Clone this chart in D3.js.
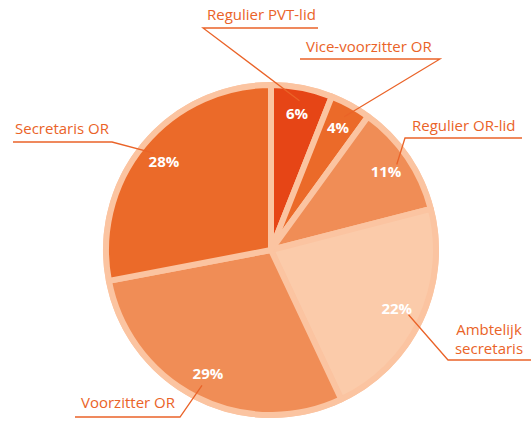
<!DOCTYPE html>
<html>
<head>
<meta charset="utf-8">
<script src="https://cdn.jsdelivr.net/npm/d3@7"></script>
<style>
    html, body { margin: 0; padding: 0; background: #fff; }
    svg { display: block; }
</style>
</head>
<body>
<div id="chart"></div>
<script>
// data, clockwise from 12 o'clock
const categories = ["Regulier PVT-lid", "Vice-voorzitter OR", "Regulier OR-lid", "Ambtelijk secretaris", "Voorzitter OR", "Secretaris OR"];
const shares = [6, 4, 11, 22, 29, 28];
const sliceColors = ["#e64516", "#eb6a29", "#f08d56", "#fbcbaa", "#f08d56", "#eb6a29"];

// where each outer label sits: elbow of the leader, end of the underline, text anchor
const labelLayout = [
    { elbow: [203, 28], lineTo: 318, text: [207, 20], anchor: "start" },
    { elbow: [440, 59], lineTo: 300, text: [306, 52], anchor: "start" },
    { elbow: [405, 138], lineTo: 522, text: [412, 131], anchor: "start" },
    { elbow: [448, 360], lineTo: 531, text: [489, 335], anchor: "middle" },
    { elbow: [180, 417], lineTo: 75, text: [81, 408], anchor: "start" },
    { elbow: [112, 142], lineTo: 13, text: [15, 134], anchor: "start" }
];

const width = 531, height = 421;
const cx = 271, cy = 250;
const ringRadius = 168, sliceRadius = 165;
const ringColor = "#fbc4a1";
const textColor = "#ea6328";

const svg = d3.select("#chart").append("svg")
    .attr("width", width)
    .attr("height", height);

const g = svg.append("g").attr("transform", `translate(${cx}, ${cy})`);

g.append("circle").attr("r", ringRadius).attr("fill", ringColor);

const pie = d3.pie().sort(null).value(d => d.value);
const arcs = pie(categories.map((c, i) => ({ name: c, value: shares[i], color: sliceColors[i] })));

const arc = d3.arc().innerRadius(0).outerRadius(sliceRadius);
const labelArc = d3.arc().innerRadius(139).outerRadius(139);
const leaderArc = d3.arc().innerRadius(152).outerRadius(152);

g.selectAll("path.slice")
    .data(arcs)
    .join("path")
    .attr("class", "slice")
    .attr("d", arc)
    .attr("fill", d => d.data.color)
    .attr("stroke", ringColor)
    .attr("stroke-width", 6)
    .attr("stroke-linejoin", "round");

// leader lines, drawn in page coordinates
const leaders = svg.append("g");
arcs.forEach((d, i) => {
    let lay = labelLayout[i];
    let [ex, ey] = leaderArc.centroid(d);
    leaders.append("polyline")
        .attr("points", `${cx + ex},${cy + ey} ${lay.elbow[0]},${lay.elbow[1]} ${lay.lineTo},${lay.elbow[1]}`)
        .attr("fill", "none")
        .attr("stroke", textColor)
        .attr("stroke-width", 1.3);

    let words = d.data.name === "Ambtelijk secretaris" ? ["Ambtelijk", "secretaris"] : [d.data.name];
    let t = leaders.append("text")
        .attr("x", lay.text[0])
        .attr("y", lay.text[1])
        .attr("text-anchor", lay.anchor)
        .attr("font-family", "'Open Sans', sans-serif")
        .attr("font-size", 15)
        .attr("fill", textColor);
    words.forEach((w, j) => {
        t.append("tspan").attr("x", lay.text[0]).attr("dy", j ? 19 : 0).text(w);
    });
});

// percentages inside the slices
g.selectAll("text.pct")
    .data(arcs)
    .join("text")
    .attr("class", "pct")
    .attr("transform", d => `translate(${labelArc.centroid(d)})`)
    .attr("text-anchor", "middle")
    .attr("dy", "0.35em")
    .attr("font-family", "'Open Sans', sans-serif")
    .attr("font-weight", "bold")
    .attr("font-size", 15)
    .attr("fill", "#fff")
    .text(d => d.data.value + "%");
</script>
</body>
</html>
